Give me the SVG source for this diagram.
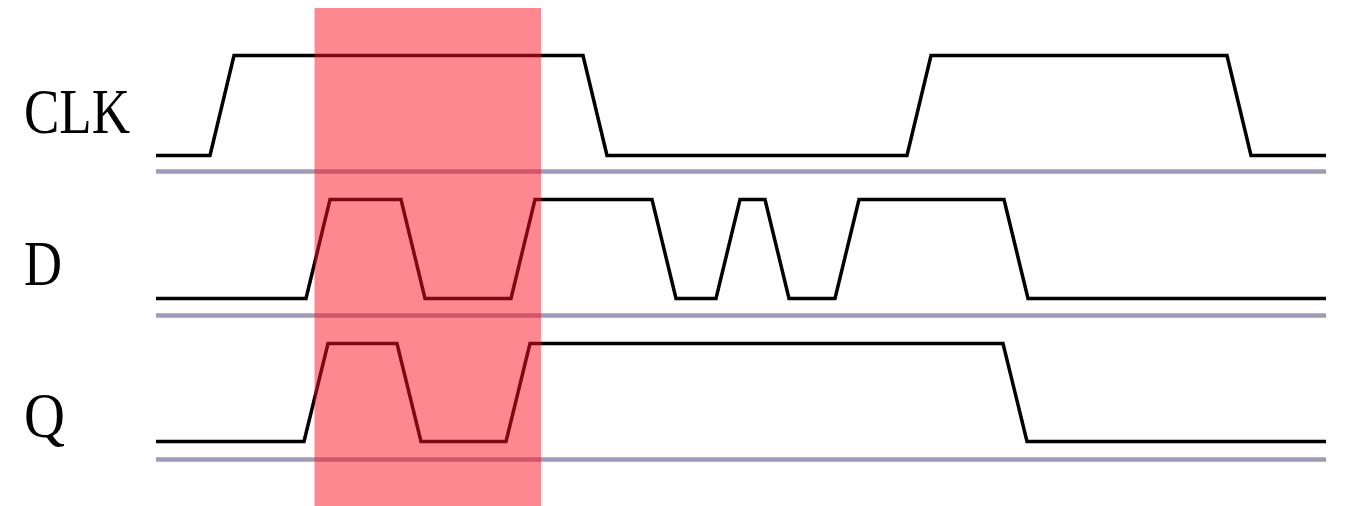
<svg xmlns="http://www.w3.org/2000/svg" width="1356" height="506" viewBox="0 0 1356 506">
<style>
.lbl{font-family:"Liberation Serif","DejaVu Serif",serif;font-size:64px;fill:#000}
.wave{fill:none;stroke:#000;stroke-width:3.5;stroke-linejoin:miter}
.base{stroke:#9d9db8;stroke-width:4.5}
</style>
<rect width="1356" height="506" fill="#fff"/>
<g id="clk">
<text class="lbl" x="24" y="133" textLength="106" lengthAdjust="spacingAndGlyphs">CLK</text>
<line class="base" x1="156" y1="171.5" x2="1326" y2="171.5"/>
<polyline class="wave" points="156,155.5 210,155.5 234,55.5 583,55.5 607,155.5 907,155.5 931,55.5 1227,55.5 1251,155.5 1326,155.5"/>
</g>
<g id="d">
<text class="lbl" x="24" y="285" textLength="38" lengthAdjust="spacingAndGlyphs">D</text>
<line class="base" x1="156" y1="315.5" x2="1326" y2="315.5"/>
<polyline class="wave" points="156,298.5 306,298.5 330,199.5 401,199.5 425,298.5 511,298.5 535,199.5 652,199.5 676,298.5 716,298.5 740,199.5 765,199.5 789,298.5 835,298.5 859,199.5 1004,199.5 1028,298.5 1326,298.5"/>
</g>
<g id="q">
<text class="lbl" x="24" y="437" textLength="41" lengthAdjust="spacingAndGlyphs">Q</text>
<line class="base" x1="156" y1="459.5" x2="1326" y2="459.5"/>
<polyline class="wave" points="156,441.5 304,441.5 328,343.5 397,343.5 421,441.5 506,441.5 530,343.5 1003,343.5 1027,441.5 1326,441.5"/>
</g>
<g id="highlight">
<rect x="314.5" y="8" width="226.5" height="498" fill="#ff1020" fill-opacity="0.5"/>
</g>
</svg>
